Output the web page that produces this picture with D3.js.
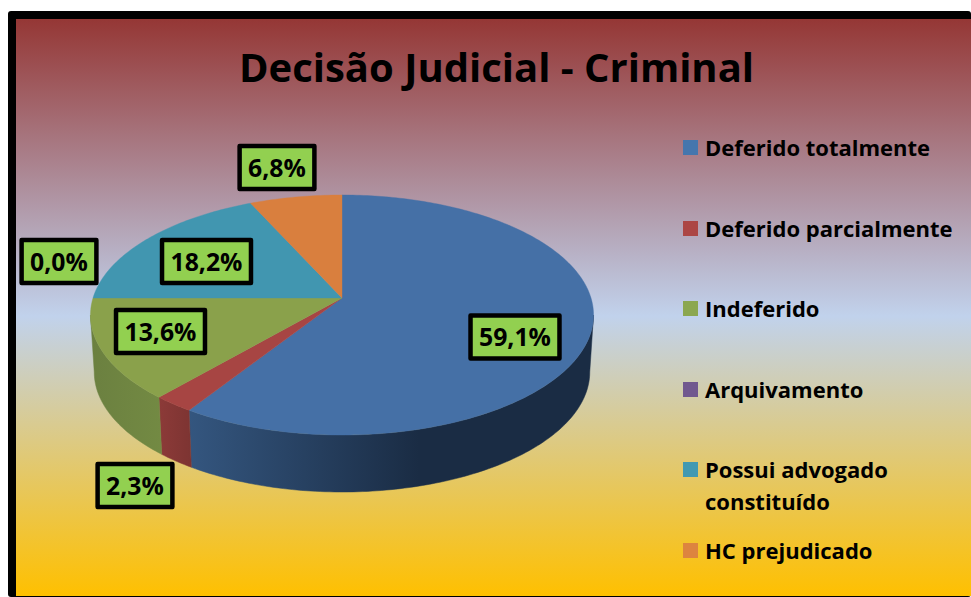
<!DOCTYPE html>
<html><head><meta charset="utf-8">
<script src="https://cdn.jsdelivr.net/npm/d3@7"></script>
<style>html,body{margin:0;background:#fff}svg{display:block}text{font-family:"Open Sans",sans-serif;font-weight:700;fill:#000}</style>
</head><body><svg id="c" width="971" height="597"></svg>
<script>
const categories = ["Deferido totalmente","Deferido parcialmente","Indeferido","Arquivamento","Possui advogado constituído","HC prejudicado"];
const values = [59.1,2.3,13.6,0.0,18.2,6.8];
const colors = ["#4570A6","#A74543","#8AA14B","#71588F","#4196B0","#D97F3E"];
const legendColors = ["#4576AD","#AC4644","#8BA750","#71588F","#4199B2","#DD843F"];
const sideStops = [["#34567F","#1A2C44"],["#8C3A38","#7D3432"],["#6B8040","#738A43"],["#5a4672","#5a4672"],["#347a90","#347a90"],["#b06630","#b06630"]];
const title = "Decisão Judicial - Criminal";
const labelCenters = [[515,337],[135,485.5],[160.5,331.5],[59,261.5],[206.5,261.5],[277,167.5]];
const legendRows = [[140,["Deferido totalmente"]],[221,["Deferido parcialmente"]],[301,["Indeferido"]],[382,["Arquivamento"]],[462,["Possui advogado","constituído"]],[543,["HC prejudicado"]]];

const svg = d3.select("#c"), defs = svg.append("defs");
const bg = defs.append("linearGradient").attr("id","bg").attr("x1",0).attr("y1",0).attr("x2",0).attr("y2",1);
[[0,"#953735"],[0.515,"#C1D2EC"],[1,"#FFC000"]].forEach(([o,c])=>bg.append("stop").attr("offset",o).attr("stop-color",c));
svg.append("rect").attr("x",8).attr("y",11).attr("width",963).attr("height",586).attr("rx",3).attr("fill","#000");
svg.append("rect").attr("x",16).attr("y",19).attr("width",955).attr("height",577).attr("fill","url(#bg)");

// perspective pie projection
const cx=342, cy=298, R=249, A=117.6, K=0.1417, depth=57, shrink=0.985;
const project=(a,lower)=>{
  const X=Math.sin(a), V=-Math.cos(a), w=1-K*V;
  const x=R*X/w, y=A*V/w;
  return lower?[cx+x*shrink,cy+y+depth]:[cx+x,cy+y];
};
const pie=d3.pie().sort(null).startAngle(0).endAngle(2*Math.PI)(values);
const line=d3.line();
const sample=(a0,a1,lower)=>{
  const s=d3.scaleLinear().domain([0,1]).range([a0,a1]);
  return d3.range(0,1.0001,1/Math.max(2,Math.ceil((a1-a0)*60))).map(t=>project(s(t),lower));
};
const frontStart=Math.acos(-K), frontEnd=2*Math.PI-Math.acos(-K);
const gSide=svg.append("g"), gTop=svg.append("g");
pie.forEach((d,i)=>{
  const a0=Math.max(d.startAngle,frontStart), a1=Math.min(d.endAngle,frontEnd);
  if(a1<=a0) return;
  const id="side"+i, top=sample(a0,a1,false), bot=sample(a0,a1,true);
  const xs=top.concat(bot).map(p=>p[0]);
  let x1=d3.min(xs), x2=d3.max(xs), st=sideStops[i];
  const g=defs.append("linearGradient").attr("id",id).attr("gradientUnits","userSpaceOnUse").attr("x1",x1).attr("x2",i===0?x1+230:x2).attr("y1",0).attr("y2",0);
  g.append("stop").attr("offset",0).attr("stop-color",st[0]);
  g.append("stop").attr("offset",1).attr("stop-color",st[1]);
  gSide.append("path").attr("d",line(top.concat(bot.reverse()))+"Z").attr("fill",`url(#${id})`).attr("stroke",`url(#${id})`).attr("stroke-width",0.5);
});
pie.forEach((d,i)=>{
  if(d.endAngle<=d.startAngle) return;
  gTop.append("path").attr("d",line([[cx,cy]].concat(sample(d.startAngle,d.endAngle,false)))+"Z").attr("fill",colors[i]).attr("stroke",colors[i]).attr("stroke-width",0.4);
});

// title
svg.append("text").attr("x",496.5).attr("y",82).attr("text-anchor","middle").attr("font-size",40).text(title);

// data labels
const fmt=v=>v.toFixed(1).replace(".",",")+"%";
values.forEach((v,i)=>{
  const [x,y]=labelCenters[i];
  const g=svg.append("g");
  const r=g.append("rect").attr("fill","#92D050").attr("stroke","#000").attr("stroke-width",4.5).attr("stroke-linejoin","round");
  const t=g.append("text").attr("x",x).attr("y",y+9).attr("text-anchor","middle").attr("font-size",24.8).text(fmt(v));
  const w=t.node().getComputedTextLength()+17;
  r.attr("x",x-w/2).attr("y",y-21.5).attr("width",w).attr("height",43);
});

// legend
legendRows.forEach(([y,lines],i)=>{
  svg.append("rect").attr("x",683).attr("y",y).attr("width",15).attr("height",15).attr("fill",legendColors[i]);
  lines.forEach((l,j)=>svg.append("text").attr("x",705).attr("y",y+15.5+j*32).attr("font-size",22).text(l));
});
</script></body></html>
